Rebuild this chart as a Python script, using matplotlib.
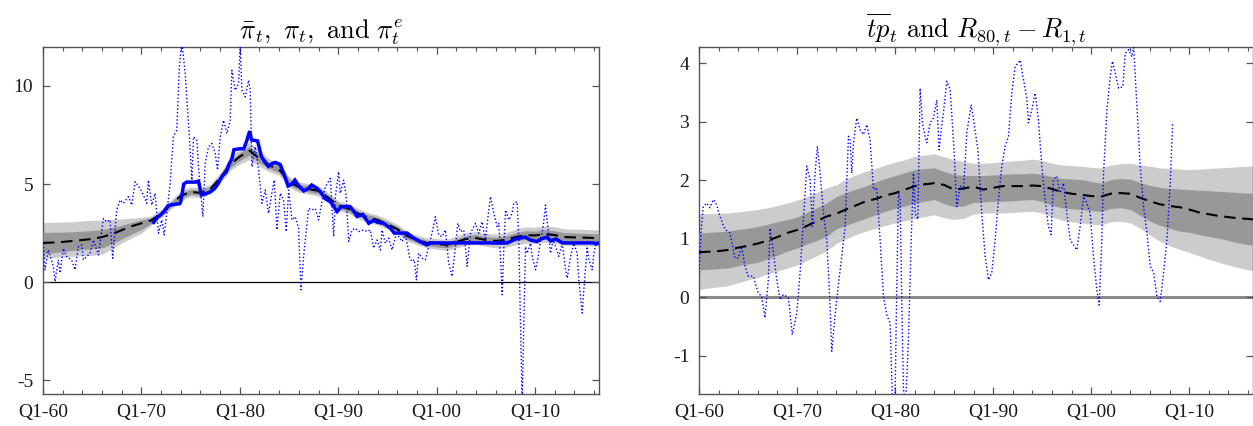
import matplotlib
matplotlib.use("Agg")
import matplotlib.pyplot as plt
from matplotlib.ticker import MultipleLocator, FuncFormatter

plt.rcParams["font.family"] = ["Liberation Serif", "DejaVu Serif"]
plt.rcParams["mathtext.fontset"] = "cm"
plt.rcParams["axes.unicode_minus"] = False

# ---------------------------------------------------------------- data
years = list(range(1960, 2017)) + [2016.5]

# trend inflation: posterior median and 68% / 90% bands
pibar_med = [2.00, 2.02, 2.05, 2.10, 2.15, 2.20, 2.30, 2.45, 2.65, 2.85,
             3.00, 3.15, 3.50, 3.95, 4.40, 4.60, 4.55, 4.75, 5.30, 6.00,
             6.40, 6.70, 6.30, 5.95, 5.75, 5.10, 4.85, 4.75, 4.65, 4.30,
             3.90, 3.75, 3.50, 3.30, 3.17, 2.95, 2.70, 2.35, 2.15, 2.00,
             1.95, 1.90, 2.05, 2.20, 2.25, 2.15, 2.10, 2.15, 2.30, 2.40,
             2.38, 2.45, 2.40, 2.30, 2.28, 2.27, 2.25, 2.25]
pibar_in_lo = [1.47, 1.50, 1.55, 1.62, 1.67, 1.70, 1.75, 1.95, 2.20, 2.45,
               2.68, 3.00, 3.38, 3.83, 4.27, 4.47, 4.42, 4.62, 5.15, 5.82,
               6.20, 6.48, 6.10, 5.78, 5.58, 4.95, 4.70, 4.60, 4.50, 4.16,
               3.76, 3.61, 3.36, 3.16, 3.03, 2.81, 2.56, 2.21, 2.01, 1.86,
               1.80, 1.75, 1.89, 2.03, 2.07, 1.97, 1.91, 1.95, 2.09, 2.18,
               2.16, 2.23, 2.18, 2.08, 2.06, 2.05, 2.03, 2.03]
pibar_in_hi = [2.53, 2.54, 2.55, 2.57, 2.60, 2.63, 2.68, 2.78, 2.90, 3.05,
               3.18, 3.28, 3.62, 4.07, 4.53, 4.73, 4.68, 4.88, 5.45, 6.18,
               6.60, 6.92, 6.50, 6.12, 5.92, 5.25, 5.00, 4.90, 4.80, 4.44,
               4.04, 3.89, 3.64, 3.44, 3.31, 3.09, 2.84, 2.49, 2.29, 2.14,
               2.10, 2.05, 2.21, 2.37, 2.43, 2.33, 2.29, 2.35, 2.51, 2.62,
               2.60, 2.67, 2.62, 2.52, 2.50, 2.49, 2.47, 2.47]
pibar_out_lo = [1.22, 1.25, 1.28, 1.32, 1.35, 1.37, 1.42, 1.70, 2.00, 2.25,
                2.50, 2.90, 3.28, 3.72, 4.15, 4.35, 4.30, 4.50, 5.02, 5.68,
                6.02, 6.25, 5.92, 5.62, 5.45, 4.82, 4.58, 4.48, 4.38, 4.05,
                3.65, 3.50, 3.25, 3.05, 2.92, 2.70, 2.45, 2.10, 1.90, 1.75,
                1.68, 1.62, 1.75, 1.88, 1.92, 1.82, 1.75, 1.78, 1.90, 1.98,
                1.96, 2.03, 1.98, 1.88, 1.86, 1.85, 1.83, 1.83]
pibar_out_hi = [3.03, 3.05, 3.06, 3.08, 3.12, 3.15, 3.17, 3.20, 3.22, 3.26,
                3.30, 3.38, 3.72, 4.18, 4.65, 4.85, 4.80, 5.00, 5.58, 6.32,
                6.78, 7.15, 6.68, 6.28, 6.05, 5.38, 5.12, 5.02, 4.92, 4.55,
                4.15, 4.00, 3.75, 3.55, 3.42, 3.20, 2.95, 2.60, 2.40, 2.25,
                2.22, 2.18, 2.35, 2.52, 2.58, 2.48, 2.45, 2.52, 2.70, 2.82,
                2.80, 2.87, 2.82, 2.72, 2.70, 2.69, 2.67, 2.67]

# realised inflation (dotted)
pi_dates = [1960.03, 1960.2, 1960.54, 1961.05, 1961.22, 1961.56, 1961.73, 1962.07,
            1962.4, 1962.9, 1963.25, 1963.6, 1963.93, 1964.1, 1964.78, 1965.12,
            1965.63, 1966.14, 1966.47, 1966.81, 1967.08, 1967.49, 1967.83, 1968.17,
            1968.68, 1969.02, 1969.36, 1969.86, 1970.2, 1970.54, 1970.71, 1971.05,
            1971.39, 1971.73, 1972.07, 1972.31, 1972.58, 1972.92, 1973.25, 1973.59,
            1973.86, 1974.1, 1974.45, 1974.79, 1975.13, 1975.3, 1975.63, 1975.8,
            1975.97, 1976.24, 1976.48, 1976.82, 1977.16, 1977.5, 1977.74, 1978.01,
            1978.35, 1978.69, 1979.02, 1979.19, 1979.53, 1979.87, 1980.04, 1980.21,
            1980.55, 1980.89, 1981.06, 1981.23, 1981.57, 1981.91, 1982.25, 1982.58,
            1982.92, 1983.26, 1983.5, 1983.77, 1984.11, 1984.45, 1984.72, 1984.96,
            1985.3, 1985.63, 1985.97, 1986.21, 1986.48, 1986.99, 1987.33, 1987.67,
            1988.01, 1988.35, 1988.69, 1989.2, 1989.54, 1989.71, 1990.04, 1990.21,
            1990.55, 1990.82, 1991.06, 1991.4, 1991.74, 1992.08, 1992.59, 1992.93,
            1993.26, 1993.6, 1993.94, 1994.28, 1994.45, 1994.79, 1995.13, 1995.47,
            1995.81, 1996.15, 1996.49, 1996.82, 1997.06, 1997.26, 1997.5, 1997.74,
            1997.94, 1998.18, 1998.52, 1998.86, 1999.1, 1999.37, 1999.64, 1999.87,
            2000.21, 2000.55, 2000.89, 2001.23, 2001.57, 2001.91, 2002.15, 2002.42,
            2002.76, 2003.1, 2003.44, 2003.95, 2004.28, 2004.62, 2004.96, 2005.3,
            2005.47, 2005.81, 2006.15, 2006.32, 2006.49, 2006.66, 2006.83, 2007.0,
            2007.34, 2007.67, 2007.84, 2008.18, 2008.35, 2008.52, 2008.69, 2009.03,
            2009.2, 2009.54, 2009.71, 2010.05, 2010.28, 2010.56, 2010.83, 2011.06,
            2011.3, 2011.57, 2011.84, 2012.08, 2012.42, 2012.76, 2013.1, 2013.27,
            2013.61, 2013.94, 2014.28, 2014.45, 2014.79, 2014.96, 2015.3, 2015.47,
            2015.81, 2015.98, 2016.15, 2016.49]
pi_values = [1.98, 0.63, 1.64, 0.80, 0.03, 1.14, 0.46, 1.73,
             1.30, 1.14, 0.63, 1.81, 1.90, 1.14, 1.47, 2.15,
             1.39, 3.25, 3.08, 3.17, 1.22, 3.68, 4.19, 4.02,
             4.36, 3.93, 5.12, 4.78, 4.44, 4.02, 5.20, 3.93,
             4.53, 2.49, 3.17, 2.41, 3.51, 5.03, 7.41, 7.75,
             10.97, 12.3, 10.63, 8.08, 5.20, 7.41, 7.24, 5.88,
             4.86, 3.34, 6.05, 6.90, 7.07, 6.56, 5.71, 7.41,
             8.25, 7.58, 8.25, 10.80, 9.78, 10.12, 12.1, 9.78,
             9.44, 10.29, 9.78, 5.88, 6.90, 5.71, 4.02, 4.69,
             3.51, 4.53, 5.20, 2.66, 4.53, 4.19, 2.58, 4.69,
             3.17, 3.34, 2.75, -0.39, 1.31, 3.76, 3.68, 3.76,
             3.17, 4.10, 4.86, 5.29, 2.32, 4.36, 5.63, 4.53,
             5.20, 4.36, 2.07, 2.66, 2.75, 2.58, 2.66, 2.58,
             2.66, 1.73, 2.15, 1.64, 2.66, 1.98, 2.24, 1.64,
             2.32, 2.32, 2.07, 2.41, 1.81, 1.22, 1.05, 1.14,
             0.12, 1.47, 1.22, 1.14, 1.64, 2.15, 2.75, 3.34,
             2.41, 2.32, 2.66, 0.97, 0.29, 1.81, 3.00, 2.58,
             2.66, 0.80, 2.49, 3.00, 2.49, 3.08, 2.15, 3.68,
             4.36, 3.51, 2.83, 3.00, 1.31, -0.64, 1.81, 3.68,
             3.17, 3.51, 4.02, 4.10, 2.15, -2.08, -6.00, 1.81,
             1.47, 1.98, 1.31, 0.63, 1.14, 2.15, 2.83, 3.93,
             2.83, 1.47, 2.15, 1.81, 1.31, 1.98, 0.63, 0.20,
             1.31, 1.98, 1.47, 0.12, -1.58, -0.39, 1.81, 1.14,
             0.63, 1.47, 1.90, 2.15]

# survey inflation expectations (solid blue)
pie_dates = [1971.25, 1971.6, 1971.9, 1972.3, 1972.7, 1973.2, 1973.9, 1974.0,
             1974.3, 1974.6, 1975.5, 1975.8, 1976.1, 1976.5, 1977.0, 1977.4,
             1977.7, 1978.2, 1978.6, 1978.9, 1979.2, 1979.4, 1980.0, 1980.4,
             1980.7, 1981.0, 1981.2, 1981.8, 1982.2, 1982.6, 1982.9, 1983.3,
             1983.6, 1984.1, 1984.5, 1984.9, 1985.3, 1985.6, 1986.0, 1986.5,
             1986.9, 1987.3, 1987.8, 1988.2, 1988.7, 1989.2, 1989.9, 1990.3,
             1991.2, 1991.6, 1991.9, 1992.5, 1993.1, 1993.6, 1994.0, 1994.6,
             1995.3, 1995.7, 1997.0, 1997.5, 1998.3, 1999.0, 1999.3, 2007.2,
             2008.0, 2009.0, 2009.5, 2010.2, 2010.6, 2011.2, 2011.6, 2012.1,
             2012.8, 2016.0, 2016.2, 2016.5]
pie_values = [3.05, 3.30, 3.40, 3.60, 3.90, 3.95, 4.00, 4.10,
              5.00, 5.10, 5.10, 5.15, 4.45, 4.50, 4.60, 4.75,
              4.95, 5.40, 5.60, 6.00, 6.30, 6.75, 6.80, 6.80,
              7.20, 7.70, 7.25, 7.20, 6.40, 6.10, 5.90, 6.05,
              6.10, 6.00, 5.50, 4.90, 5.00, 5.20, 4.90, 4.65,
              4.75, 4.95, 4.80, 4.60, 4.25, 4.10, 3.60, 3.85,
              3.85, 3.60, 3.35, 3.45, 3.00, 3.15, 3.05, 3.00,
              2.75, 2.50, 2.50, 2.30, 2.07, 1.90, 2.00, 2.00,
              2.20, 2.30, 2.15, 2.07, 2.20, 2.29, 2.10, 2.20,
              2.00, 2.00, 1.95, 2.00]

# trend term premium: posterior median and bands
tp_med = [0.77, 0.78, 0.79, 0.81, 0.85, 0.88, 0.92, 0.97, 1.03, 1.10,
          1.15, 1.22, 1.30, 1.38, 1.43, 1.50, 1.57, 1.64, 1.68, 1.74,
          1.78, 1.84, 1.90, 1.93, 1.95, 1.92, 1.84, 1.86, 1.89, 1.84,
          1.87, 1.90, 1.90, 1.90, 1.91, 1.90, 1.85, 1.80, 1.77, 1.75,
          1.73, 1.72, 1.77, 1.78, 1.77, 1.70, 1.64, 1.59, 1.56, 1.54,
          1.50, 1.45, 1.42, 1.39, 1.37, 1.35, 1.34, 1.33]
tp_in_lo = [0.47, 0.48, 0.49, 0.50, 0.54, 0.57, 0.60, 0.66, 0.72, 0.79,
            0.84, 0.91, 0.97, 1.04, 1.17, 1.23, 1.29, 1.35, 1.41, 1.47,
            1.52, 1.56, 1.61, 1.64, 1.67, 1.60, 1.55, 1.56, 1.62, 1.63,
            1.64, 1.64, 1.65, 1.66, 1.67, 1.64, 1.57, 1.53, 1.51, 1.50,
            1.48, 1.47, 1.52, 1.53, 1.50, 1.40, 1.30, 1.23, 1.18, 1.13,
            1.11, 1.07, 1.04, 1.01, 0.97, 0.93, 0.90, 0.89]
tp_in_hi = [1.10, 1.11, 1.12, 1.13, 1.16, 1.18, 1.21, 1.25, 1.29, 1.33,
            1.37, 1.45, 1.53, 1.61, 1.72, 1.79, 1.85, 1.90, 1.97, 2.03,
            2.08, 2.13, 2.18, 2.20, 2.21, 2.15, 2.10, 2.08, 2.08, 2.08,
            2.09, 2.10, 2.11, 2.11, 2.12, 2.10, 2.06, 2.03, 2.02, 2.01,
            1.98, 1.95, 2.01, 2.03, 2.02, 1.96, 1.91, 1.88, 1.86, 1.85,
            1.84, 1.83, 1.82, 1.81, 1.80, 1.79, 1.78, 1.78]
tp_out_lo = [0.13, 0.16, 0.18, 0.20, 0.25, 0.30, 0.34, 0.40, 0.45, 0.50,
             0.55, 0.63, 0.71, 0.79, 0.92, 1.00, 1.07, 1.13, 1.18, 1.23,
             1.27, 1.31, 1.35, 1.38, 1.41, 1.36, 1.33, 1.35, 1.42, 1.44,
             1.44, 1.44, 1.45, 1.46, 1.47, 1.44, 1.37, 1.32, 1.29, 1.27,
             1.25, 1.24, 1.29, 1.30, 1.27, 1.18, 1.06, 0.96, 0.88, 0.82,
             0.77, 0.71, 0.65, 0.60, 0.55, 0.51, 0.47, 0.46]
tp_out_hi = [1.43, 1.43, 1.44, 1.44, 1.46, 1.48, 1.50, 1.53, 1.57, 1.61,
             1.66, 1.72, 1.79, 1.87, 1.92, 2.02, 2.09, 2.15, 2.20, 2.26,
             2.31, 2.35, 2.41, 2.43, 2.45, 2.40, 2.35, 2.32, 2.29, 2.29,
             2.30, 2.32, 2.33, 2.34, 2.36, 2.34, 2.29, 2.26, 2.25, 2.24,
             2.22, 2.21, 2.26, 2.28, 2.29, 2.26, 2.24, 2.21, 2.20, 2.19,
             2.18, 2.19, 2.20, 2.21, 2.22, 2.23, 2.24, 2.24]

# term spread R80 - R1 (dotted)
spread_dates = [1960.0, 1960.2, 1960.44, 1960.78, 1961.12, 1961.46, 1961.8, 1962.14,
                1962.65, 1963.16, 1963.67, 1964.01, 1964.35, 1964.69, 1965.03, 1965.54,
                1966.05, 1966.39, 1966.73, 1967.07, 1967.24, 1967.59, 1967.93, 1968.27,
                1968.61, 1969.12, 1969.52, 1969.97, 1970.31, 1970.65, 1970.99, 1971.33,
                1971.56, 1971.84, 1972.07, 1972.35, 1972.69, 1973.03, 1973.37, 1973.54,
                1973.88, 1974.2, 1974.56, 1974.9, 1975.24, 1975.41, 1975.58, 1975.75,
                1976.09, 1976.43, 1976.77, 1977.11, 1977.45, 1977.79, 1978.13, 1978.47,
                1978.81, 1979.15, 1979.49, 1979.73, 1980.0, 1980.17, 1980.34, 1980.51,
                1980.68, 1980.85, 1981.09, 1981.36, 1981.64, 1981.87, 1982.04, 1982.32,
                1982.55, 1982.79, 1983.06, 1983.23, 1983.57, 1983.91, 1984.25, 1984.49,
                1984.7, 1984.93, 1985.27, 1985.61, 1985.95, 1986.3, 1986.64, 1986.98,
                1987.31, 1987.76, 1988.1, 1988.44, 1988.84, 1989.18, 1989.52, 1989.86,
                1990.2, 1990.54, 1990.88, 1991.22, 1991.56, 1991.9, 1992.24, 1992.75,
                1993.09, 1993.43, 1993.6, 1993.94, 1994.28, 1994.62, 1994.96, 1995.3,
                1995.64, 1995.91, 1996.15, 1996.49, 1996.83, 1997.17, 1997.51, 1997.85,
                1998.19, 1998.53, 1998.87, 1999.21, 1999.55, 1999.89, 2000.23, 2000.57,
                2000.81, 2001.08, 2001.26, 2001.6, 2001.94, 2002.17, 2002.45, 2002.79,
                2003.23, 2003.47, 2003.81, 2004.15, 2004.32, 2004.66, 2005.0, 2005.34,
                2005.68, 2006.02, 2006.36, 2006.7, 2007.04, 2007.38, 2007.72, 2008.06,
                2008.3]
spread_values = [0.42, 1.10, 1.55, 1.61, 1.53, 1.67, 1.58, 1.38,
                 1.16, 1.10, 0.67, 0.67, 0.87, 0.53, 0.36, 0.36,
                 0.07, 0.02, -0.35, 0.30, 1.18, 0.76, 0.30, -0.04,
                 0.05, -0.01, -0.64, -0.27, 0.42, 1.33, 2.24, 2.01,
                 1.21, 2.12, 2.58, 2.12, 1.44, 0.98, -0.15, -0.92,
                 -0.30, 0.20, 0.70, 1.21, 2.75, 2.69, 2.12, 2.64,
                 3.06, 2.86, 2.78, 2.95, 2.69, 1.84, 1.87, 0.98,
                 0.02, -0.30, -0.44, -1.75, -1.70, 0.19, 1.78, 1.67,
                 -0.04, -1.58, -1.75, -0.72, 0.98, 2.12, 1.44, 1.33,
                 3.57, 2.98, 2.75, 2.64, 2.98, 3.06, 3.37, 2.52,
                 2.86, 3.15, 3.69, 3.55, 2.69, 1.55, 1.90, 1.84,
                 2.81, 3.29, 2.92, 2.52, 1.44, 0.70, 0.30, 0.42,
                 0.98, 1.67, 2.24, 2.58, 2.75, 3.49, 3.94, 4.05,
                 3.72, 3.40, 2.98, 3.20, 3.49, 3.03, 2.24, 1.67,
                 1.21, 1.07, 2.01, 2.07, 1.78, 1.95, 1.44, 0.98,
                 0.90, 0.81, 1.21, 1.72, 1.61, 1.44, 0.70, 0.13,
                 -0.13, 0.98, 2.12, 3.20, 3.77, 4.03, 3.83, 3.57,
                 3.60, 4.17, 4.23, 4.11, 4.30, 3.26, 2.24, 1.55,
                 1.10, 0.53, 0.42, 0.02, -0.07, 0.42, 0.98, 1.95,
                 2.98]

# ---------------------------------------------------------------- styling
LIGHT = "#cccccc"
DARK = "#989898"
BLUE = "#0000ff"
SPINE = "#555555"


def style_axes(ax, ylim, yticks):
    ax.set_xlim(1960, 2016.5)
    ax.set_ylim(*ylim)
    ax.set_yticks(yticks)
    ax.xaxis.set_major_locator(MultipleLocator(10))
    ax.xaxis.set_minor_locator(MultipleLocator(2))
    ax.xaxis.set_major_formatter(
        FuncFormatter(lambda v, _: "Q1-%02d" % (int(round(v)) % 100)))
    ax.yaxis.set_major_formatter(FuncFormatter(lambda v, _: "%d" % round(v)))
    ax.tick_params(which="both", direction="in", top=True, right=True,
                   color=SPINE, labelsize=14, labelcolor="#1a1a1a")
    ax.tick_params(which="major", length=5, width=0.9)
    ax.tick_params(which="minor", length=3, width=0.8)
    ax.tick_params(axis="x", pad=7)
    ax.tick_params(axis="y", pad=7)
    for sp in ax.spines.values():
        sp.set_color(SPINE)
        sp.set_linewidth(1.0)


fig = plt.figure(figsize=(12.53, 4.26), dpi=100)
ax1 = fig.add_axes([43 / 1253, 1 - 394 / 426, 556 / 1253, 347.3 / 426])
ax2 = fig.add_axes([699 / 1253, 1 - 394 / 426, 554 / 1253, 347.3 / 426])

# left: trend inflation, realised inflation, survey expectations
ax1.axhline(0, color="black", lw=0.9, zorder=1)
ax1.fill_between(years, pibar_out_lo, pibar_out_hi, color=LIGHT, lw=0, zorder=2)
ax1.fill_between(years, pibar_in_lo, pibar_in_hi, color=DARK, lw=0, zorder=3)
ax1.plot(years, pibar_med, color="black", lw=1.5, dashes=(5.5, 3.2), zorder=4)
ax1.plot(pi_dates, pi_values, color=BLUE, lw=1.0, ls=(0, (1, 1.6)), zorder=5)
ax1.plot(pie_dates, pie_values, color=BLUE, lw=2.5, solid_joinstyle="miter",
         zorder=6)
style_axes(ax1, (-5.7, 12.0), [-5, 0, 5, 10])
ax1.set_title(r"$\bar{\pi}_t,\ \pi_t,\ \mathrm{and}\ \pi^e_t$",
              fontsize=19, pad=6)

# right: trend term premium and term spread
ax2.axhline(0, color="#8a8a8a", lw=2.2, zorder=1)
ax2.fill_between(years, tp_out_lo, tp_out_hi, color=LIGHT, lw=0, zorder=2)
ax2.fill_between(years, tp_in_lo, tp_in_hi, color=DARK, lw=0, zorder=3)
ax2.plot(years, tp_med, color="black", lw=1.5, dashes=(5.5, 3.2), zorder=4)
ax2.plot(spread_dates, spread_values, color=BLUE, lw=1.0, ls=(0, (1, 1.6)),
         zorder=5)
style_axes(ax2, (-1.65, 4.28), [-1, 0, 1, 2, 3, 4])
ax2.set_title(r"$\overline{tp}_t\ \mathrm{and}\ R_{80,t}-R_{1,t}$",
              fontsize=19, pad=6)

fig.savefig("out.png", dpi=100)
